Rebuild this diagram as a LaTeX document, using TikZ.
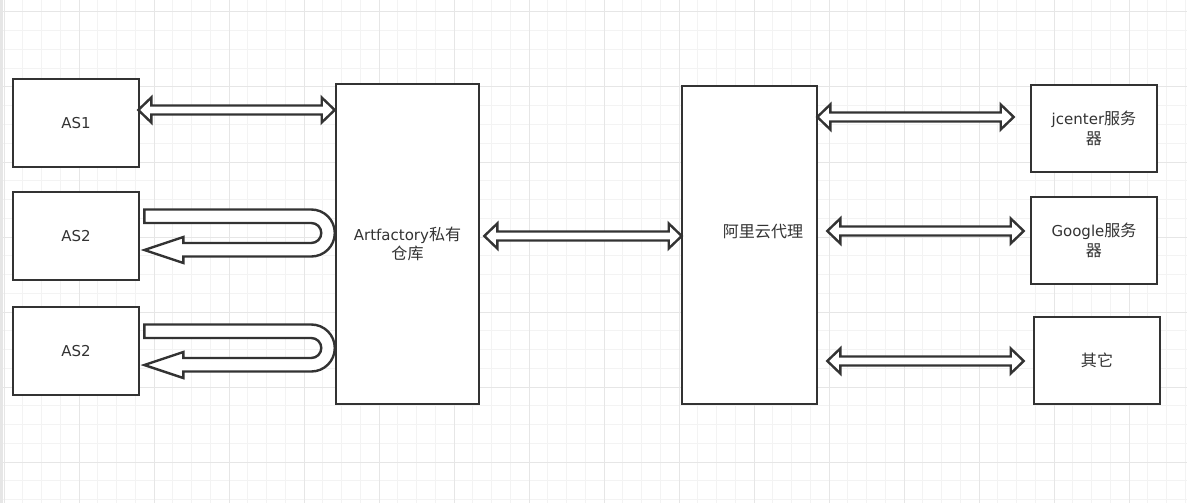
\documentclass[tikz,border=0pt]{standalone}
\usepackage{fontspec}
\setmainfont{DejaVu Sans}
\newfontfamily\cjk[Scale=1.07]{Noto Sans CJK SC}
\usetikzlibrary{calc}
\definecolor{ink}{HTML}{333333}
\definecolor{gridminor}{HTML}{F3F3F3}
\definecolor{gridmajor}{HTML}{E6E6E6}
\tikzset{
  box/.style={draw=ink, line width=2.6pt, fill=white, rectangle, inner sep=0pt,
    text=ink, align=center, font=\fontsize{15}{19.5}\selectfont},
  flexline/.style={draw=ink, line width=2.4pt, fill=white, line join=miter},
}
% double-ended flex arrow between two points on one level
\newcommand\dblarrow[2]{%
  \draw[flexline] (#1) -- ($(#1)+(13,-12.5)$) -- ($(#1)+(13,-4.5)$)
    -- ($(#2)+(-13,-4.5)$) -- ($(#2)+(-13,-12.5)$) -- (#2)
    -- ($(#2)+(-13,12.5)$) -- ($(#2)+(-13,4.5)$)
    -- ($(#1)+(13,4.5)$) -- ($(#1)+(13,12.5)$) -- cycle;}
% U-turn flex arrow leaving and re-entering a node's east side
\newcommand\uturn[1]{%
  \begin{scope}[shift={(#1.east)}]
    \draw[flexline] (4,-26.5) -- (171,-26.5) arc(90:-90:23.5pt)
      -- (43,20.5) -- (43,27) -- (4,14) -- (43,1) -- (43,7) -- (171,7)
      arc(-90:90:10pt) -- (4,-13) -- cycle;
  \end{scope}}
\begin{document}
\begin{tikzpicture}[x=1pt,y=-1pt]
\useasboundingbox (0,0) rectangle (1187,503);
\fill[white] (0,0) rectangle (1187,503);
% grid
\foreach \gx in {4,22.75,...,1187} \draw[gridminor, line width=1pt] (\gx,0) -- (\gx,503);
\foreach \gy in {12,30.75,...,503} \draw[gridminor, line width=1pt] (0,\gy) -- (1187,\gy);
\foreach \gx in {4,79,...,1187} \draw[gridmajor, line width=1pt] (\gx,0) -- (\gx,503);
\foreach \gy in {12,87,...,503} \draw[gridmajor, line width=1pt] (0,\gy) -- (1187,\gy);
\fill[gridmajor] (0,0) rectangle (3,503);

% boxes
\node[box, minimum width=126pt, minimum height=88pt] (as1) at (76,123) {AS1};
\node[box, minimum width=126pt, minimum height=88pt] (as2a) at (76,236) {AS2};
\node[box, minimum width=126pt, minimum height=88pt] (as2b) at (76,351) {AS2};
\node[box, minimum width=143pt, minimum height=320pt] (art) at (407.5,244) {Artfactory{\cjk 私有}\\{\cjk 仓库}};
\node[box, minimum width=135pt, minimum height=318pt,
  label={[text=ink, font=\fontsize{15}{19.5}\selectfont\cjk, xshift=13.5pt, yshift=13pt]center:阿里云代理}] (ali) at (749.5,245) {};
\node[box, minimum width=126pt, minimum height=87pt] (jc) at (1094,128.5) {jcenter{\cjk 服务}\\{\cjk 器}};
\node[box, minimum width=126pt, minimum height=87pt] (gg) at (1094,240.5) {Google{\cjk 服务}\\{\cjk 器}};
\node[box, minimum width=126pt, minimum height=87pt] (other) at (1097,360.5) {\cjk 其它};

% arrow end points
\coordinate (a1l) at ($(as1.east)+(-2,-13)$);
\coordinate (a1r) at (art.west |- a1l);
\coordinate (a2l) at ($(art.east)+(4,-8)$);
\coordinate (a2r) at ($(ali.west |- a2l)+(1,0)$);
\coordinate (a3l) at ($(ali.east)+(-1,-128)$);
\coordinate (a3r) at ($(jc.west |- a3l)+(-16,0)$);
\coordinate (a4l) at ($(ali.east)+(9,-14)$);
\coordinate (a4r) at ($(gg.west |- a4l)+(-6,0)$);
\coordinate (a5l) at ($(ali.east)+(9,116)$);
\coordinate (a5r) at ($(other.west |- a5l)+(-9,0)$);

\dblarrow{a1l}{a1r}
\dblarrow{a2l}{a2r}
\dblarrow{a3l}{a3r}
\dblarrow{a4l}{a4r}
\dblarrow{a5l}{a5r}
\uturn{as2a}
\uturn{as2b}
\end{tikzpicture}
\end{document}
